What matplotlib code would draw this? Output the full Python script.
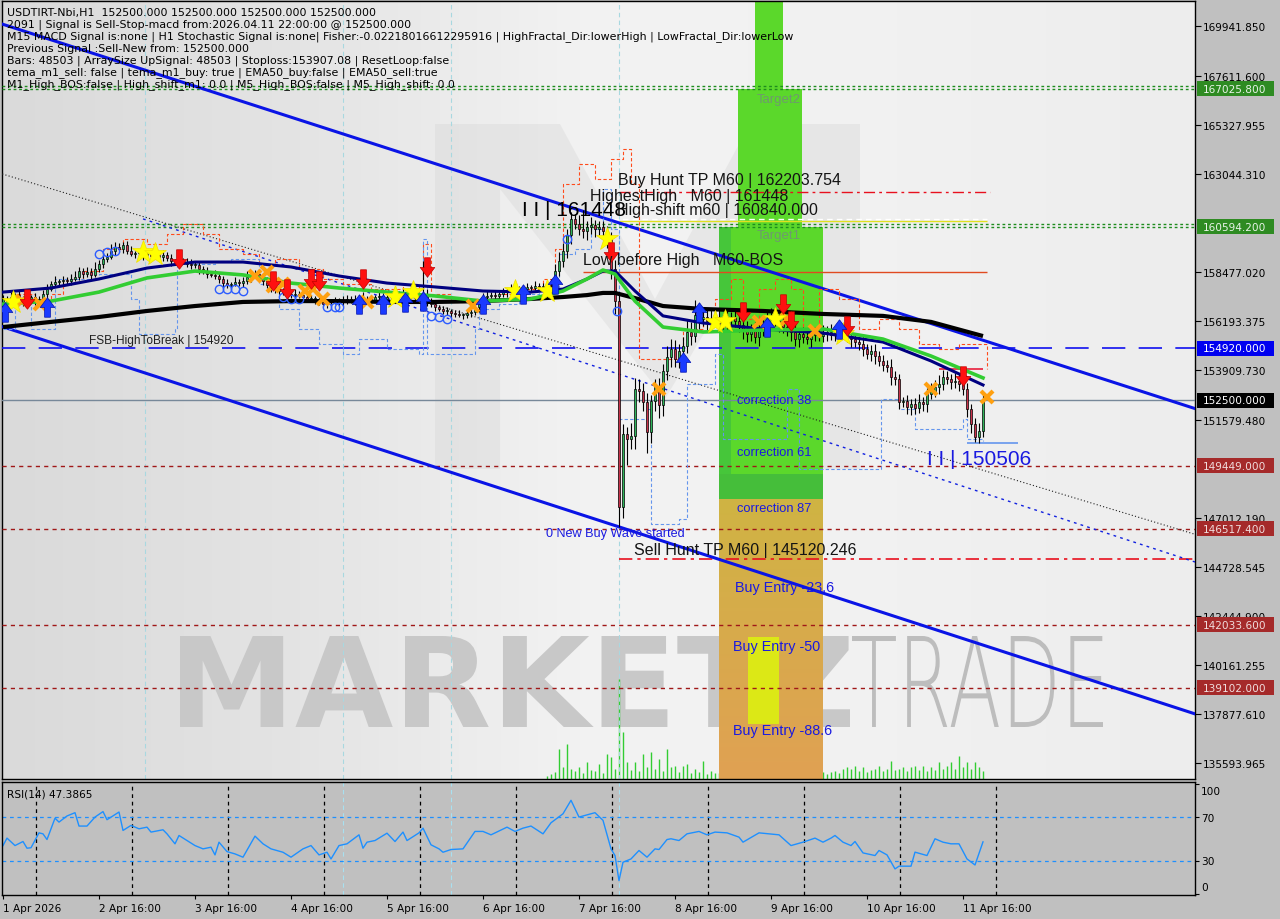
import numpy as np
import matplotlib
matplotlib.use("Agg")
import matplotlib.pyplot as plt
from matplotlib.path import Path
from matplotlib.patches import PathPatch, Polygon, Rectangle
from matplotlib.textpath import TextPath
from matplotlib.font_manager import FontProperties
from matplotlib.transforms import Affine2D, IdentityTransform, blended_transform_factory
from matplotlib.colors import LinearSegmentedColormap

plt.rcParams['font.family'] = ['DejaVu Sans']

W, H = 1280, 920

# ---------------- data (prices in thousands of IRT, x = H1 bar index) ----------------
open0_k = 157.10
closes_k = [
    157.22, 157.12, 157.31, 157.40, 157.22, 157.08, 157.22, 157.31, 157.12, 157.22,
    157.45, 157.68, 157.92, 158.01, 158.06, 158.10, 158.06, 158.15, 158.24, 158.52,
    158.38, 158.48, 158.34, 158.62, 158.85, 159.08, 159.18, 159.46, 159.64, 159.55,
    159.74, 159.46, 159.32, 159.36, 159.36, 159.27, 159.32, 159.22, 159.27, 159.18,
    159.27, 159.13, 158.99, 158.99, 158.99, 158.94, 158.85, 158.80, 158.80, 158.62,
    158.52, 158.38, 158.34, 158.29, 158.15, 157.96, 157.87, 157.92, 158.01, 157.96,
    158.06, 158.24, 158.34, 158.38, 158.24, 158.06, 157.87, 157.78, 157.68, 157.59,
    157.50, 157.45, 157.40, 157.45, 157.40, 157.31, 157.22, 157.22, 157.22, 157.12,
    156.98, 157.08, 157.12, 157.12, 157.08, 157.12, 157.22, 157.12, 157.22, 157.31,
    157.12, 157.22, 157.17, 157.31, 157.36, 157.22, 157.31, 157.36, 157.40, 157.45,
    157.50, 157.40, 157.31, 157.40, 157.22, 157.40, 157.12, 156.98, 156.84, 156.75,
    156.66, 156.66, 156.57, 156.52, 156.47, 156.47, 156.57, 156.61, 156.84, 156.98,
    157.31, 157.36, 157.40, 157.36, 157.45, 157.54, 157.59, 157.68, 157.64, 157.59,
    157.68, 157.78, 157.73, 157.82, 157.78, 157.78, 157.87, 157.82, 158.52, 158.99,
    159.46, 160.20, 160.95, 160.71, 160.48, 160.39, 160.57, 160.67, 160.48, 160.57,
    160.39, 160.01, 158.62, 157.12, 147.52, 150.93, 150.69, 150.83, 153.02, 152.93,
    152.42, 151.02, 152.46, 153.12, 152.28, 153.86, 154.51, 154.89, 154.42, 154.79,
    155.03, 155.68, 155.49, 156.47, 156.29, 156.38, 156.19, 156.29, 156.38, 156.19,
    156.05, 156.29, 156.38, 156.19, 156.01, 155.82, 155.59, 155.73, 155.45, 155.82,
    156.05, 156.29, 156.38, 156.19, 156.05, 155.91, 155.82, 155.68, 155.35, 155.59,
    155.45, 155.35, 155.54, 155.63, 155.49, 155.59, 155.68, 155.54, 155.63, 155.73,
    155.59, 155.49, 155.35, 155.21, 155.12, 154.89, 154.65, 154.79, 154.56, 154.33,
    154.14, 154.05, 153.58, 153.49, 152.42, 152.46, 152.18, 152.32, 152.14, 152.42,
    152.32, 152.79, 152.93, 153.12, 153.26, 153.58, 153.49, 153.35, 153.40, 153.26,
    153.02, 152.09, 151.39, 150.79, 151.07, 152.50,
]
wick_hi_k = [
    .20, .15, .25, .10, .20, .15, .30, .10, .20, .15,
    .20, .25, .15, .30, .10, .20, .15, .25, .30, .20,
    .15, .25, .20, .30, .20, .35, .20, .30, .25, .20,
    .15, .20, .25, .10, .20, .15, .25, .20, .15, .20,
    .25, .15, .20, .10, .20, .15, .20, .25, .15, .20,
    .15, .20, .10, .25, .20, .15, .20, .10, .25, .15,
    .20, .30, .15, .20, .25, .15, .20, .30, .15, .20,
    .15, .20, .10, .25, .15, .20, .10, .20, .15, .25,
    .20, .15, .10, .20, .15, .25, .20, .15, .20, .10,
    .25, .15, .20, .10, .20, .15, .25, .10, .20, .15,
    .20, .15, .25, .20, .15, 1.60, .30, .15, .20, .10,
    .15, .20, .10, .15, .20, .10, .15, .25, .20, .15,
    .20, .25, .15, .20, .10, .20, .15, .25, .15, .20,
    .15, .20, .10, .25, .15, .20, .15, .30, .35, .40,
    .35, .30, .30, .25, .40, .90, .30, .35, .25, .30,
    .30, .25, .35, .40, .30, .45, .30, .60, .50, .45,
    .35, .40, .30, .35, .40, .35, .50, .45, .40, .35,
    .40, .60, .45, .70, .50, .40, .35, .45, .30, .35,
    .30, .40, .25, .35, .30, .40, .35, .30, .40, .30,
    .35, .30, .40, .25, .35, .30, .40, .30, .35, .25,
    .30, .35, .25, .30, .35, .40, .30, .35, .25, .45,
    .30, .35, .25, .30, .20, .35, .25, .30, .35, .25,
    .30, .25, .35, .30, .25, .20, .30, .25, .30, .35,
    .25, .30, .35, .30, .40, .35, .30, .25, .35, .30,
    .35, .30, .25, .30, .35, .40,
]
wick_lo_k = [
    .15, .20, .10, .25, .15, .20, .15, .10, .20, .15,
    .15, .20, .10, .15, .20, .25, .15, .20, .10, .15,
    .20, .15, .25, .10, .15, .20, .15, .10, .20, .15,
    .20, .15, .10, .20, .15, .25, .15, .20, .10, .15,
    .20, .15, .25, .15, .20, .10, .15, .20, .15, .25,
    .15, .20, .10, .15, .20, .25, .15, .20, .10, .15,
    .20, .15, .25, .10, .15, .20, .15, .25, .20, .15,
    .10, .20, .15, .25, .15, .20, .10, .15, .25, .20,
    .15, .20, .10, .15, .25, .20, .15, .10, .20, .15,
    .20, .15, .25, .10, .15, .20, .15, .25, .20, .10,
    .15, .20, .10, .15, .20, .15, .25, .15, .20, .10,
    .15, .20, .25, .15, .10, .20, .15, .20, .15, .25,
    .15, .20, .10, .15, .20, .15, .25, .10, .15, .20,
    .15, .20, .15, .10, .20, .15, .20, .15, .20, .25,
    .30, .35, .40, .25, .30, .35, .40, .30, .35, .30,
    .35, .40, .45, .60, .95, .50, 1.20, .45, .60, .50,
    .40, 1.00, .50, .45, .60, .50, .40, .45, .35, .40,
    .45, .35, .40, .30, .45, .35, .40, .30, .35, .40,
    .30, .35, .40, .30, .35, .45, .40, .35, .30, .40,
    .35, .30, .40, .25, .35, .30, .35, .40, .30, .35,
    .30, .25, .35, .30, .25, .30, .35, .25, .30, .35,
    .25, .30, .35, .25, .30, .35, .25, .30, .35, .25,
    .30, .25, .35, .30, .35, .25, .30, .35, .30, .25,
    .30, .35, .25, .30, .35, .30, .25, .35, .30, .35,
    .30, .35, .40, .25, .30, .30,
]

# moving averages read at a few bars
ma_bars = [0, 12, 24, 36, 48, 60, 72, 84, 96, 108, 120, 132, 140, 146, 150, 153, 158, 165, 175, 190, 205, 220, 232, 245]
ma_slow_k = [155.91, 156.15, 156.38, 156.66, 156.89, 157.08, 157.12, 157.12, 157.08, 157.08, 157.12, 157.22,
             157.31, 157.40, 157.50, 157.50, 157.26, 156.89, 156.75, 156.66, 156.52, 156.43, 156.15, 155.49]
ma_mid_k = [157.54, 157.73, 158.15, 158.66, 158.94, 158.94, 158.71, 158.29, 157.96, 157.78, 157.59, 157.54,
            157.68, 158.15, 158.52, 158.52, 157.59, 156.43, 156.10, 155.82, 155.63, 155.21, 154.33, 153.21]
ma_fast_k = [156.98, 157.12, 157.54, 158.20, 158.52, 158.34, 157.96, 157.73, 157.54, 157.36, 157.12, 157.22,
             157.59, 158.15, 158.57, 158.38, 157.12, 155.91, 155.68, 155.77, 155.82, 155.35, 154.56, 153.54]

# step envelopes (bar, price k)
env_hi = [(0, 157.08), (3, 157.45), (8, 157.22), (12, 157.45), (15, 158.15), (20, 158.52), (25, 159.55),
          (30, 160.01), (36, 159.78), (41, 160.24), (45, 160.71), (50, 160.24), (54, 159.55), (60, 159.32),
          (64, 158.85), (68, 159.08), (74, 158.62), (80, 158.15), (85, 157.92), (92, 157.68), (100, 157.92),
          (104, 157.68), (105, 159.78), (107, 157.45), (112, 157.08), (118, 157.22), (124, 157.45),
          (130, 157.68), (135, 158.15), (138, 159.55), (140, 162.58), (144, 163.51), (148, 162.81),
          (152, 163.74), (155, 164.21), (157, 162.58), (159, 154.42), (165, 154.42), (170, 155.82),
          (175, 156.75), (178, 157.22), (182, 158.15), (185, 156.28), (189, 157.68), (193, 158.15),
          (197, 157.68), (200, 155.82), (204, 157.68), (209, 157.22), (214, 155.82), (219, 156.28),
          (224, 155.82), (229, 155.12), (234, 154.89), (239, 155.12), (243, 155.12), (246, 153.96)]
env_lo = [(0, 155.82), (3, 156.98), (7, 155.82), (12, 155.82), (13, 158.15), (24, 158.38), (32, 157.22),
          (34, 155.59), (43, 155.82), (43.5, 158.85), (53, 158.99), (57, 159.08), (64, 157.92), (69, 156.75),
          (74, 155.82), (79, 155.12), (85, 154.65), (89, 155.35), (96, 154.89), (104, 154.65), (105, 160.01),
          (106, 154.65), (114, 154.65), (118, 155.82), (119, 156.75), (124, 156.98), (129, 157.45),
          (134, 157.68), (139, 159.32), (143, 159.55), (147, 160.48), (150, 162.35), (152, 160.48),
          (154, 151.63), (161, 152.09), (162, 146.72), (169, 146.95), (171, 153.26), (178, 154.65),
          (180, 150.69), (189, 150.69), (196, 153.02), (199, 149.29), (212, 149.29), (219, 149.29),
          (219.5, 152.56), (224, 152.09), (228, 151.16), (240, 151.63), (241, 150.69), (245, 150.60)]

# signal markers (bar, price k)
stars = [(2.5, 157.08), (35, 159.41), (38, 159.32), (98, 157.31), (102.5, 157.54), (128, 157.59),
         (136, 157.59), (151, 160.01), (178, 156.15), (180.5, 156.19), (193, 156.29), (210, 155.59)]
sell_arrows = [(6, 157.22), (44, 159.08), (67.5, 158.06), (71, 157.68), (77, 158.15), (79, 158.06),
               (90, 158.15), (106, 158.71), (152, 159.41), (185, 156.62), (195, 156.99), (197, 156.19),
               (211, 155.96), (240, 153.63)]
buy_arrows = [(0.5, 156.61), (11, 156.85), (89, 156.99), (95, 156.99), (100.5, 157.08), (105, 157.12),
              (120, 156.99), (130, 157.45), (138, 157.92), (170, 154.28), (174, 156.62), (191, 155.91),
              (209, 155.82)]
crosses = [(4.75, 157.12), (9.25, 156.98), (63, 158.29), (66, 158.48), (67.5, 157.83), (70, 157.92),
           (75.5, 157.59), (77.5, 157.69), (80, 157.22), (91, 157.08), (117.5, 156.89), (164, 153.03),
           (189, 156.15), (196, 156.29), (203, 155.73), (232, 153.03), (246, 152.65)]
circles = [(24, 159.32), (26, 159.41), (28, 159.46), (54, 157.69), (56, 157.69), (58, 157.69), (60, 157.59),
           (70, 157.31), (72, 157.22), (74, 157.22), (81, 156.85), (83, 156.85), (84, 156.85), (107, 156.43),
           (109, 156.38), (111, 156.29), (141, 160.01), (153.5, 156.66)]

# tick volume from bar 136
vol_start = 136
volumes = [3, 5, 7, 30, 12, 35, 10, 8, 12, 6, 17, 9, 8, 15, 6, 25, 22, 10, 100, 47,
           17, 9, 17, 8, 25, 12, 27, 10, 20, 8, 30, 12, 13, 7, 13, 15, 6, 10, 7, 18,
           5, 8, 6, 6, 8, 5, 9, 7, 10, 6, 8, 7, 5, 9, 6, 8, 7, 10, 6, 5,
           8, 7, 9, 6, 8, 7, 5, 6, 8, 7, 5, 7, 8, 6, 10, 12, 10, 13, 8, 12,
           7, 9, 10, 13, 8, 10, 18, 9, 10, 12, 8, 12, 13, 9, 13, 8, 12, 9, 17, 10,
           13, 17, 10, 23, 12, 17, 10, 17, 12, 8]

# RSI(14)
rsi_bars = [0, 1, 3, 5, 6, 7, 9, 10, 11, 13, 14, 16, 18, 19, 21, 23, 25, 26, 29, 30, 32, 34, 36, 37, 40, 41,
            43, 44, 46, 48, 50, 52, 53, 54, 56, 58, 60, 63, 65, 67, 70, 72, 75, 77, 79, 81, 82, 84, 86, 89,
            90, 91, 93, 96, 98, 100, 101, 104, 105, 107, 109, 110, 112, 115, 118, 120, 122, 126, 128, 130,
            132, 135, 137, 140, 142, 144, 148, 150, 152, 153, 154, 155, 157, 159, 161, 163, 164, 166, 167,
            169, 171, 174, 176, 178, 181, 184, 185, 189, 194, 197, 200, 203, 205, 207, 208, 210, 212, 213,
            215, 218, 219, 221, 223, 224, 227, 228, 231, 233, 235, 237, 239, 241, 243, 245]
rsi_vals = [44.0, 50.8, 44.0, 47.7, 41.6, 42.0, 55.6, 54.7, 49.5, 69.0, 65.4, 71.0, 74.0, 61.8, 61.8, 70.0,
            75.0, 67.6, 74.6, 57.8, 62.4, 59.3, 60.8, 56.3, 58.4, 54.7, 45.6, 53.2, 48.6, 44.0, 41.0, 42.5,
            35.5, 47.1, 38.5, 36.4, 33.4, 52.6, 45.6, 41.0, 37.9, 33.4, 41.0, 44.0, 35.5, 37.9, 31.8, 44.0,
            45.6, 53.8, 41.6, 47.1, 48.6, 55.3, 47.7, 56.3, 48.6, 55.6, 59.9, 44.7, 41.0, 37.9, 40.4, 41.0,
            56.9, 56.9, 53.8, 60.8, 56.9, 59.9, 61.8, 54.7, 64.8, 73.0, 85.3, 70.0, 74.0, 67.0, 41.0, 34.9,
            12.0, 28.8, 31.8, 39.5, 33.4, 41.0, 40.4, 49.5, 50.2, 48.6, 54.7, 56.9, 53.8, 56.3, 55.6, 51.7,
            47.1, 55.6, 53.8, 44.0, 47.1, 50.8, 47.1, 50.8, 53.2, 47.1, 44.0, 47.7, 37.3, 34.9, 39.5, 35.5,
            22.7, 25.2, 25.2, 38.0, 34.9, 50.2, 47.1, 45.6, 45.6, 31.8, 26.3, 47.39]

# price levels
lvl_target2 = 167025.8
lvl_target1 = 160594.2
lvl_buy_tp = 162203.754
lvl_high_shift = 160840.0
lvl_highest = 161448
lvl_low_before = 158480
lvl_fsb = 154920.0
lvl_last = 152500.0
lvl_sell_tp = 145120.246
lvl_low = 150506
lvl_red_dash = [149449.0, 146517.4, 142033.6, 139102.0]
zone_bars = (179, 205)
zone_mid = 147900
zone_dark = 149060

# channel (bar, price) at both ends
chan_up = [(-1, 170080), (298, 152110)]
chan_dn = [(-1, 155980), (298, 137880)]
dot_black = [(-1, 163090), (298, 146250)]
dot_blue = [(35, 160950), (298, 144960)]

price_ticks = [169941.850, 167611.600, 165327.955, 163044.310, 158477.020, 156193.375, 153909.730,
               151579.480, 147012.190, 144728.545, 142444.900, 140161.255, 137877.610, 135593.965]
date_ticks = [0, 24, 48, 72, 96, 120, 144, 168, 192, 216, 240]
date_labels = ['1 Apr 2026', '2 Apr 16:00', '3 Apr 16:00', '4 Apr 16:00', '5 Apr 16:00', '6 Apr 16:00',
               '7 Apr 16:00', '8 Apr 16:00', '9 Apr 16:00', '10 Apr 16:00', '11 Apr 16:00']

info_lines = [
    "USDTIRT-Nbi,H1  152500.000 152500.000 152500.000 152500.000",
    "2091 | Signal is Sell-Stop-macd from:2026.04.11 22:00:00 @ 152500.000",
    "M15 MACD Signal is:none | H1 Stochastic Signal is:none| Fisher:-0.02218016612295916 | HighFractal_Dir:lowerHigh | LowFractal_Dir:lowerLow",
    "Previous Signal :Sell-New from: 152500.000",
    "Bars: 48503 | ArraySize UpSignal: 48503 | Stoploss:153907.08 | ResetLoop:false",
    "tema_m1_sell: false | tema_m1_buy: true | EMA50_buy:false | EMA50_sell:true",
    "M1_High_BOS:false | High_shift_m1: 0.0 | M5_High_BOS:false | M5_High_shift: 0.0",
]

# ---------------- build series ----------------
n = len(closes_k)
bars = np.arange(n)
closes = np.array(closes_k) * 1000
opens = np.r_[open0_k * 1000, closes[:-1]]
highs = np.maximum(opens, closes) + np.array(wick_hi_k) * 1000
lows = np.minimum(opens, closes) - np.array(wick_lo_k) * 1000

def k(pts):
    a = np.array(pts, dtype=float)
    return a[:, 0], a[:, 1] * 1000

fig = plt.figure(figsize=(W / 100, H / 100), dpi=100, facecolor='#C0C0C0')
ax = fig.add_axes([2 / W, 1 - 780 / H, 1193 / W, 778 / H])
ax2 = fig.add_axes([2 / W, 1 - 896 / H, 1193 / W, 113 / H])

X0, X1 = -0.25, 298
Y0, Y1 = 134845, 171107
pix = Affine2D().scale(1, -1).translate(0, H)   # image pixels (y down) -> display

# background
bg = LinearSegmentedColormap.from_list('bg', ['#DADADA', '#E4E4E4', '#F3F3F3', '#F1F1F1', '#EDEDED'])
ax.imshow(np.linspace(0, 1, 256).reshape(1, -1), cmap=bg, extent=[X0, X1, Y0, Y1], aspect='auto', zorder=0)

# watermark
for poly in ([(435, 125), (500, 125), (500, 470), (435, 470)],
             [(790, 125), (860, 125), (860, 470), (790, 470)],
             [(500, 125), (560, 125), (655, 300), (750, 125), (790, 125), (790, 190), (665, 400), (500, 190)]):
    ax.add_patch(Polygon(poly, closed=True, transform=pix, fc='#D4D4D4', ec='none', alpha=0.35, zorder=1))

def word(text, box, weight, color):
    tp = TextPath((0, 0), text, size=100, prop=FontProperties(family='DejaVu Sans', weight=weight))
    e = tp.get_extents()
    x0, y0, x1, y1 = box
    tr = Affine2D().translate(-e.x0, -e.y0).scale((x1 - x0) / e.width, (y1 - y0) / e.height).translate(x0, H - y1)
    ax.add_patch(PathPatch(tr.transform_path(tp), transform=IdentityTransform(), fc=color, ec='none', zorder=1))

word("MARKETZ", (180, 637, 850, 728), 'bold', '#C8C8C8')
word("TRADE", (852, 637, 1103, 728), 'light', '#BDBDBD')

# zones
zx0, zx1 = zone_bars
tan = LinearSegmentedColormap.from_list('tan', ['#CFB443', '#D8AA4C', '#E0A153'])
ax.imshow(np.linspace(0, 1, 128).reshape(-1, 1), cmap=tan, extent=[zx0, zx1, Y0, zone_mid], aspect='auto', zorder=2)
ax.add_patch(Rectangle((zx0, zone_mid), zx1 - zx0, zone_dark - zone_mid, fc='#45BE3A', ec='none', zorder=2))
ax.add_patch(Rectangle((zx0, zone_dark), zx1 - zx0, lvl_target1 - zone_dark, fc='#5BD82B', ec='none', zorder=2))
ax.add_patch(Rectangle((zx0, zone_dark), 3, lvl_target1 - zone_dark, fc='#46C63A', ec='none', zorder=2))
ax.add_patch(Rectangle((183.75, lvl_target1), 16, lvl_target2 - lvl_target1, fc='#5BD82B', ec='none', zorder=2))
ax.add_patch(Rectangle((188, lvl_target2), 7, Y1 - lvl_target2 + 500, fc='#5BD82B', ec='none', zorder=2))
ax.add_patch(Rectangle((186.25, 137410), 7.75, 141470 - 137410, fc='#DCE816', ec='none', zorder=2))

# volume under the zone
vb = vol_start + np.arange(len(volumes))
ax.vlines(vb, 0, np.array(volumes) / 778, color='#32CD32', lw=1, transform=ax.get_xaxis_transform(), zorder=1.5)

# vertical light guide lines
for b in (35.5, 85, 112, 154):
    ax.axvline(b, color='#A8D8E0', lw=0.8, ls=(0, (4, 3)), zorder=2.5)

# horizontal levels
for lv in (lvl_target2, lvl_target1):
    ax.axhline(lv, color='#1E8C1E', lw=1, ls=(0, (2, 2)), zorder=3)
    ax.axhline(lv + 110, color='#1E8C1E', lw=1, ls=(0, (2, 2)), zorder=3)
ax.hlines(lvl_buy_tp, 154, 246.75, color='#E8101E', lw=1, ls=(0, (8, 3, 2, 3)), zorder=3)
ax.hlines(lvl_high_shift, 154, 246, color='#E0E020', lw=1, zorder=3)
ax.hlines(160950, 150, 246, color='white', lw=1, ls=(0, (4, 3)), zorder=3)
ax.hlines(lvl_low_before, 145, 246, color='#E04A20', lw=1, zorder=3)
ax.axhline(lvl_fsb, color='#1010F0', lw=1.2, ls=(0, (14, 8)), zorder=3)
ax.axhline(lvl_last, color='#778899', lw=1, zorder=3)
for lv in lvl_red_dash:
    ax.axhline(lv, color='#A01818', lw=1, ls=(0, (3, 3)), zorder=3)
ax.hlines(lvl_sell_tp, 154, X1, color='#E8101E', lw=1.2, ls=(0, (8, 3, 2, 3)), zorder=3)
ax.hlines(lvl_low, 241, 253.75, color='#6495ED', lw=1.2, zorder=3)
ax.hlines(153960, 234, 245, color='#E8203C', lw=1.2, zorder=3)

# trend channel
for seg in (chan_up, chan_dn):
    x, y = zip(*seg)
    ax.plot(x, y, color='#0A14E6', lw=2.2, zorder=4)
x, y = zip(*dot_black)
ax.plot(x, y, color='#202020', lw=0.8, ls=(0, (1, 2)), zorder=3)
x, y = zip(*dot_blue)
ax.plot(x, y, color='#1020E0', lw=1.0, ls=(0, (2, 3)), zorder=3)

# envelopes
x, y = k(env_hi)
ax.step(x, y, where='post', color='#FF4A1A', lw=0.8, ls=(0, (3, 2)), zorder=4)
x, y = k(env_lo)
ax.step(x, y, where='post', color='#6495ED', lw=0.8, ls=(0, (3, 2)), zorder=4)

# candles
up = closes >= opens
ax.vlines(bars, lows, highs, color='black', lw=0.8, zorder=5)
body_lo = np.minimum(opens, closes)
body_h = np.maximum(np.abs(closes - opens), 30)
ax.bar(bars[up], body_h[up], bottom=body_lo[up], width=0.62, color='#2FB45A', edgecolor='black', lw=0.5, zorder=6)
ax.bar(bars[~up], body_h[~up], bottom=body_lo[~up], width=0.62, color='#C8324A', edgecolor='black', lw=0.5, zorder=6)

# moving averages
mb = np.array(ma_bars)
ax.plot(mb, np.array(ma_slow_k) * 1000, color='black', lw=3, zorder=7, solid_capstyle='butt')
ax.plot(mb, np.array(ma_mid_k) * 1000, color='#000080', lw=2.2, zorder=7)
ax.plot(mb, np.array(ma_fast_k) * 1000, color='#32CD32', lw=2.6, zorder=7)

# signal markers
down = Path([(-0.3, 1), (0.3, 1), (0.3, 0), (0.75, 0), (0, -1), (-0.75, 0), (-0.3, 0), (-0.3, 1)],
            [Path.MOVETO] + [Path.LINETO] * 6 + [Path.CLOSEPOLY])
upv = Path([(xv, -yv) for xv, yv in down.vertices], down.codes)
x, y = k(circles)
ax.plot(x, y, 'o', ms=6, mfc='none', mec='#2C5CFF', mew=1, zorder=8)
x, y = k(crosses)
ax.plot(x, y, 'x', ms=9, mec='#FFA010', mew=3, zorder=8)
x, y = k(stars)
ax.plot(x, y, '*', ms=17, mfc='#FFFF00', mec='#F0E000', mew=0.5, zorder=8)
x, y = k(sell_arrows)
ax.plot(x, y, ls='none', marker=down, ms=14, mfc='#FF1010', mec='#C00000', mew=0.5, zorder=9)
x, y = k(buy_arrows)
ax.plot(x, y, ls='none', marker=upv, ms=14, mfc='#1A3AFF', mec='#0010B0', mew=0.5, zorder=9)

ax.set_xlim(X0, X1)
ax.set_ylim(Y0, Y1)
ax.set_xticks([])
ax.yaxis.tick_right()
ax.set_yticks(price_ticks)
ax.set_yticklabels(['%.3f' % v for v in price_ticks])
ax.tick_params(axis='y', direction='out', length=4, pad=2, labelsize=7.6, colors='black')
for s in ax.spines.values():
    s.set_color('black')
    s.set_linewidth(1)

# texts on chart
def T(x, y, s, **kw):
    kw.setdefault('va', 'center')
    kw.setdefault('ha', 'left')
    kw.setdefault('zorder', 10)
    ax.text(x / W, 1 - y / H, s, transform=fig.transFigure, **kw)

for i, line in enumerate(info_lines):
    T(7, 13 + 12 * i, line, fontsize=7.9, color='black')

LS = ['Liberation Sans', 'DejaVu Sans']
T(618, 180, "Buy Hunt TP M60 | 162203.754", fontsize=11.5, family=LS, color='#141414')
T(590, 197, "HighestHigh   M60 | 161448", fontsize=11.5, family=LS, color='#141414')
T(617, 210, "High-shift m60 | 160840.000", fontsize=11.5, family=LS, color='#141414')
T(522, 210, "I I | 161448", fontsize=15, family=LS, color='black')
T(583, 261, "Low before High   M60-BOS", fontsize=11.5, family=LS, color='#141414')
T(89, 341, "FSB-HighToBreak | 154920", fontsize=8.6, family=LS, color='#202020')
T(757, 100, "Target2", fontsize=9.5, family=LS, color='#6E9A6E')
T(757, 236, "Target1", fontsize=9.5, family=LS, color='#6E9A6E')
T(737, 401, "correction 38", fontsize=9.3, family=LS, color='#1A1AE0')
T(737, 453, "correction 61", fontsize=9.3, family=LS, color='#1A1AE0')
T(737, 509, "correction 87", fontsize=9.3, family=LS, color='#1A1AE0')
T(546, 534, "0 New Buy Wave started", fontsize=9.1, family=LS, color='#1A1AE0')
T(634, 551, "Sell Hunt TP M60 | 145120.246", fontsize=11.5, family=LS, color='#141414')
T(735, 588, "Buy Entry -23.6", fontsize=10.4, family=LS, color='#1A1AE0')
T(733, 647, "Buy Entry -50", fontsize=10.4, family=LS, color='#1A1AE0')
T(733, 731, "Buy Entry -88.6", fontsize=10.4, family=LS, color='#1A1AE0')
T(927, 460, "I I | 150506", fontsize=15, family=LS, color='#1A1AE0')

# price boxes on the right axis
bt = blended_transform_factory(fig.transFigure, ax.transData)
boxes = [(lvl_target2, '#2E8B22', '#E8F4E8'), (lvl_target1, '#2E8B22', '#E8F4E8'),
         (lvl_fsb, '#0000F0', 'white'), (lvl_last, 'black', 'white')] + \
        [(lv, '#A52A2A', '#F0DCDC') for lv in lvl_red_dash]
for lv, fc, tc in boxes:
    fig.add_artist(Rectangle((1197 / W, lv - 340), 77 / W, 680, transform=bt, fc=fc, ec='none', zorder=5))
    fig.text(1203 / W, lv, '%.3f' % lv, transform=bt, va='center', ha='left', fontsize=7.6, color=tc, zorder=6)

# ---------------- RSI panel ----------------
ax2.set_facecolor('#C0C0C0')
ax2.set_xlim(X0, X1)
ax2.set_ylim(-1.1, 102)
for b in date_ticks:
    ax2.axvline(b + 8.25, color='black', lw=0.9, ls=(0, (3, 3)))
for b in (85, 112, 154):
    ax2.axvline(b, color='#A8E0F0', lw=0.8, ls=(0, (4, 3)))
ax2.axhline(70, color='#1E90FF', lw=0.9, ls=(0, (3, 3)))
ax2.axhline(30, color='#1E90FF', lw=0.9, ls=(0, (3, 3)))
ax2.plot(rsi_bars, rsi_vals, color='#1E90FF', lw=1)
ax2.text(7 / W, 1 - 795 / H, 'RSI(14) 47.3865', transform=fig.transFigure, fontsize=7.6, va='center', ha='left')
ax2.yaxis.tick_right()
ax2.set_yticks([100, 70, 30, 0])
ax2.set_yticklabels([])
ax2.tick_params(axis='y', direction='out', length=3, colors='black')
for val, yy in ((100, 792), (70, 819), (30, 862), (0, 888)):
    fig.text(1201 / W, 1 - yy / H, str(val), fontsize=7.6, va='center', ha='left')
ax2.set_xticks(date_ticks)
ax2.set_xticklabels(date_labels)
ax2.tick_params(axis='x', direction='out', length=3, pad=3, labelsize=7.6)
for lab in ax2.get_xticklabels():
    lab.set_ha('left')
for s in ax2.spines.values():
    s.set_color('black')
    s.set_linewidth(1)

fig.savefig('out.png', dpi=100, facecolor=fig.get_facecolor())
plt.close(fig)
